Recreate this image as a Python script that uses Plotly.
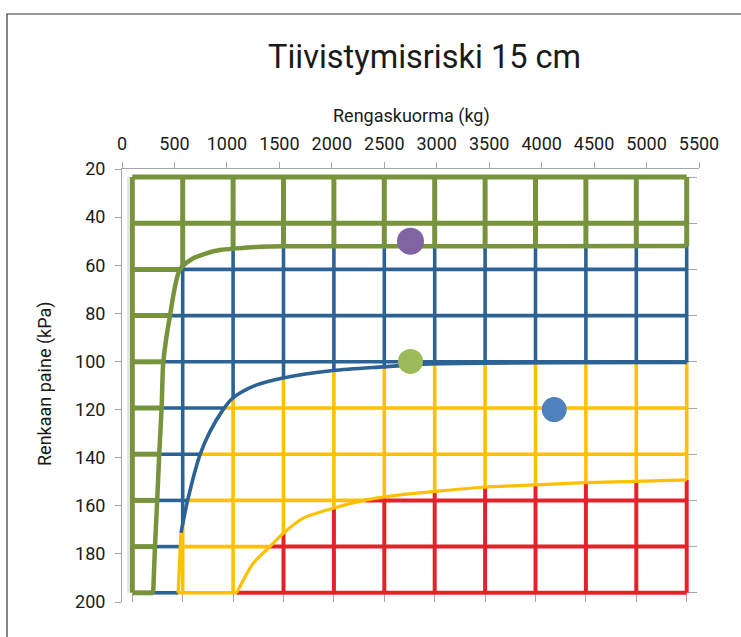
import numpy as np
import plotly.graph_objects as go

# ---------------- data ----------------
load_ticks = list(range(0, 5501, 500))        # Rengaskuorma (kg) grid columns
pressure_ticks = list(range(20, 201, 20))     # Renkaan paine (kPa) grid rows

# zone boundaries (kg, kPa)
green_edge_kg = [207, 225, 247, 267, 291, 308, 374, 473, 605, 738, 870, 1036, 1268, 1500, 5500]
green_edge_kpa = [200, 180, 160, 140, 120, 100, 80, 60, 55.2, 53.0, 51.6, 50.9, 50.2, 50.0, 49.9]

blue_edge_kg = [455, 483, 550, 671, 770, 899, 986, 1068, 1234, 1495, 1991, 2487, 2954, 5500]
blue_edge_kpa = [200, 174, 159.8, 140.3, 130.2, 120.8, 116.1, 113.5, 110.0, 107.0, 103.8, 102.2, 100.9, 100.3]

yellow_edge_kg = [1036, 1200, 1366, 1498, 1697, 1994, 2325, 2656, 2986, 3482, 3995, 4491, 4997, 5500]
yellow_edge_kpa = [200, 187.2, 180, 174.2, 167.7, 163.4, 159.8, 157.6, 156.2, 154.3, 153.3, 152.3, 151.8, 151.1]

# example tyres
point_kg = [2750, 2750, 4120]
point_kpa = [50, 100, 120]
point_colors = ["#8064A2", "#9BBB59", "#4F81BD"]
point_sizes = [27, 25, 25]

# ---------------- styling ----------------
C_GREEN = "#77933C"
C_BLUE = "#2C6394"
C_YELLOW = "#FFC000"
C_RED = "#E3232A"
AX_GRAY = "#A6A6A6"
FONT = "Roboto"
TXT = "#1a1a1a"

W, H = 741, 637
ML, MR, MT, MB = 122, 42, 169, 35
PW, PH = W - ML - MR, H - MT - MB


def px_x(p):
    return (p - ML) / PW


def px_y(p):
    return (H - MB - p) / PH


def clip01(v):
    return min(1.0, max(0.0, v))


# grid sub-chart pixel placement
g_x0_px, g_x1_px = 132.3, 686.7     # kg 0 .. 5500
g_y0_px, g_y1_px = 177.0, 592.8     # kPa 20 .. 200
sx = (g_x1_px - g_x0_px) / (load_ticks[-1] - load_ticks[0])
sy = (g_y1_px - g_y0_px) / (pressure_ticks[-1] - pressure_ticks[0])
dom_x_px = (124.0, 697.0)
dom_y_px = (170.0, 601.0)
gx_range = [load_ticks[0] + (dom_x_px[0] - g_x0_px) / sx, load_ticks[-1] + (dom_x_px[1] - g_x1_px) / sx]
gy_range = [pressure_ticks[-1] + (dom_y_px[1] - g_y1_px) / sy, pressure_ticks[0] - (g_y0_px - dom_y_px[0]) / sy]


def edge_x(row, kg, kpa):
    kg = np.asarray(kg, float); kpa = np.asarray(kpa, float)
    if row < kpa.min():
        return load_ticks[-1]
    return float(np.interp(row, kpa[::-1], kg[::-1]))


def edge_y(col, kg, kpa):
    kg = np.asarray(kg, float); kpa = np.asarray(kpa, float)
    if col < kg.min():
        return pressure_ticks[-1]
    return float(np.interp(col, kg, kpa))


segs = {c: ([], []) for c in (C_GREEN, C_BLUE, C_YELLOW, C_RED)}
order = [C_GREEN, C_BLUE, C_YELLOW, C_RED]

for r in pressure_ticks:
    cuts = [load_ticks[0], edge_x(r, green_edge_kg, green_edge_kpa),
            edge_x(r, blue_edge_kg, blue_edge_kpa),
            edge_x(r, yellow_edge_kg, yellow_edge_kpa), load_ticks[-1]]
    for i in range(1, len(cuts)):
        cuts[i] = max(cuts[i], cuts[i - 1])
    for i, col in enumerate(order):
        a, b = cuts[i], cuts[i + 1]
        if b - a > 1:
            segs[col][0].extend([a, b, None]); segs[col][1].extend([r, r, None])

for c in load_ticks:
    cuts = [pressure_ticks[0], edge_y(c, green_edge_kg, green_edge_kpa),
            edge_y(c, blue_edge_kg, blue_edge_kpa),
            edge_y(c, yellow_edge_kg, yellow_edge_kpa), pressure_ticks[-1]]
    for i in range(1, len(cuts)):
        cuts[i] = max(cuts[i], cuts[i - 1])
    for i, col in enumerate(order):
        a, b = cuts[i], cuts[i + 1]
        if b - a > 0.3:
            segs[col][0].extend([c, c, None]); segs[col][1].extend([a, b, None])

widths = {C_GREEN: 5, C_BLUE: 3.6, C_YELLOW: 3.6, C_RED: 4}

fig = go.Figure()
for col in [C_RED, C_YELLOW, C_BLUE, C_GREEN]:
    fig.add_trace(go.Scatter(x=segs[col][0], y=segs[col][1], mode="lines",
                             line=dict(color=col, width=widths[col]),
                             xaxis="x", yaxis="y", hoverinfo="skip", showlegend=False))

# boundary curves
fig.add_trace(go.Scatter(x=yellow_edge_kg, y=yellow_edge_kpa, mode="lines",
                         line=dict(color=C_YELLOW, width=3.2, shape="spline", smoothing=0.8),
                         xaxis="x", yaxis="y", hoverinfo="skip", showlegend=False))
fig.add_trace(go.Scatter(x=blue_edge_kg[:2], y=blue_edge_kpa[:2], mode="lines",
                         line=dict(color=C_YELLOW, width=3.4),
                         xaxis="x", yaxis="y", hoverinfo="skip", showlegend=False))
fig.add_trace(go.Scatter(x=blue_edge_kg[1:], y=blue_edge_kpa[1:], mode="lines",
                         line=dict(color=C_BLUE, width=3.6, shape="spline", smoothing=0.8),
                         xaxis="x", yaxis="y", hoverinfo="skip", showlegend=False))
fig.add_trace(go.Scatter(x=green_edge_kg, y=green_edge_kpa, mode="lines",
                         line=dict(color=C_GREEN, width=4.5, shape="spline", smoothing=0.8),
                         xaxis="x", yaxis="y", hoverinfo="skip", showlegend=False))

# example points on the labelled axes
fig.add_trace(go.Scatter(x=point_kg, y=point_kpa, mode="markers",
                         marker=dict(color=point_colors, size=point_sizes, opacity=1,
                                     line=dict(width=0)),
                         opacity=1, xaxis="x2", yaxis="y2", showlegend=False))

left_line_x = gx_range[0] + (128 - dom_x_px[0]) / sx

fig.update_layout(
    width=W, height=H,
    margin=dict(l=ML, r=MR, t=MT, b=MB, pad=0),
    paper_bgcolor="white", plot_bgcolor="rgba(0,0,0,0)",
    font=dict(family=FONT, size=18, color=TXT),
    showlegend=False,
    # grid sub-chart axes (tick marks only)
    xaxis=dict(domain=[clip01(px_x(dom_x_px[0])), clip01(px_x(dom_x_px[1]))], range=gx_range,
               anchor="free", position=clip01(px_y(g_y1_px)), side="bottom",
               tickmode="array", tickvals=load_ticks, showticklabels=False,
               ticks="outside", ticklen=8, tickcolor=AX_GRAY, tickwidth=1.2,
               showline=False, showgrid=False, zeroline=False, layer="below traces"),
    yaxis=dict(domain=[clip01(px_y(dom_y_px[1])), clip01(px_y(dom_y_px[0]))], range=gy_range,
               anchor="free", position=clip01(px_x(g_x1_px)), side="right",
               tickmode="array", tickvals=pressure_ticks, showticklabels=False,
               ticks="outside", ticklen=9, tickcolor=AX_GRAY, tickwidth=1.2,
               showline=False, showgrid=False, zeroline=False, layer="below traces"),
    # labelled axes
    xaxis2=dict(domain=[0, 1], range=[0, 5500], anchor="y2", side="top",
                tickmode="linear", tick0=0, dtick=500,
                ticks="outside", ticklen=6, tickcolor=AX_GRAY, tickwidth=1,
                showline=True, linecolor=AX_GRAY, linewidth=1,
                showgrid=False, zeroline=False, ticklabelstandoff=5,
                tickfont=dict(size=18, family=FONT, color=TXT)),
    yaxis2=dict(domain=[0, 1], range=[200, 20], anchor="x2", side="left",
                tickmode="linear", tick0=20, dtick=20,
                ticks="outside", ticklen=6, tickcolor=AX_GRAY, tickwidth=1,
                showline=True, linecolor=AX_GRAY, linewidth=1,
                showgrid=False, zeroline=False, ticklabelstandoff=6,
                tickfont=dict(size=18, family=FONT, color=TXT)),
    annotations=[
        dict(text="Tiivistymisriski 15 cm", xref="paper", yref="paper",
             x=px_x(424), y=px_y(57), xanchor="center", yanchor="middle",
             showarrow=False, font=dict(size=32.5, family=FONT, color=TXT)),
        dict(text="Rengaskuorma (kg)", xref="paper", yref="paper",
             x=px_x(411), y=px_y(116), xanchor="center", yanchor="middle",
             showarrow=False, font=dict(size=18, family=FONT, color=TXT)),
        dict(text="Renkaan paine (kPa)", xref="paper", yref="paper",
             x=px_x(45), y=px_y(384), xanchor="center", yanchor="middle", textangle=-90,
             showarrow=False, font=dict(size=18, family=FONT, color=TXT)),
    ],
    shapes=[
        dict(type="rect", xref="paper", yref="paper",
             x0=px_x(7), x1=px_x(800), y0=px_y(14), y1=px_y(700),
             line=dict(color="#333333", width=1.2), fillcolor="rgba(0,0,0,0)", layer="below"),
        dict(type="line", xref="x", yref="y",
             x0=left_line_x, x1=left_line_x,
             y0=pressure_ticks[0], y1=pressure_ticks[-1],
             line=dict(color="#C8C8C8", width=1), layer="below"),
    ],
)

fig.write_html("out.html", config={"displayModeBar": False},
               post_script="document.body.style.margin='0px';document.body.style.padding='0px';")
